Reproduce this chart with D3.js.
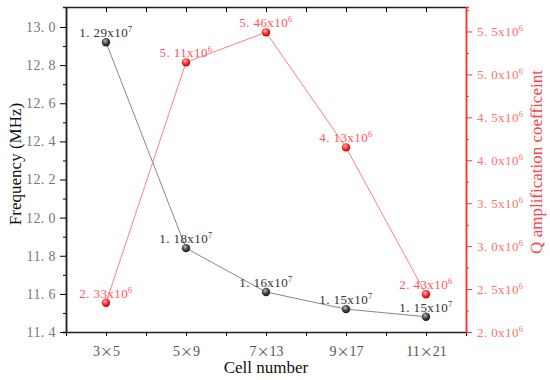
<!DOCTYPE html>
<html>
<head>
<meta charset="utf-8">
<script src="https://cdn.jsdelivr.net/npm/d3@7"></script>
<style>
  body { margin: 0; background: #fff; }
  #chart { width: 550px; height: 380px; }
</style>
</head>
<body>
<div id="chart"></div>
<script>
// data
const cells = ["3×5", "5×9", "7×13", "9×17", "11×21"];
const freq = [12.92, 11.84, 11.61, 11.52, 11.48];          // MHz (left axis)
const freqLabels = ["1. 29", "1. 18", "1. 16", "1. 15", "1. 15"]; // x10^7
const qValues = [2.34e6, 5.14e6, 5.49e6, 4.15e6, 2.44e6];  // right axis
const qLabels = ["2. 33", "5. 11", "5. 46", "4. 13", "2. 43"];    // x10^6
const freqTicks = [11.4, 11.6, 11.8, 12.0, 12.2, 12.4, 12.6, 12.8, 13.0];
const qTicks = [2.0e6, 2.5e6, 3.0e6, 3.5e6, 4.0e6, 4.5e6, 5.0e6, 5.5e6];

const width = 550, height = 380;
const plotL = 66, plotR = 466, plotT = 7, plotB = 332;
const font = "'Liberation Serif', 'Times New Roman', serif";
const cjk = "'Noto Sans CJK SC', sans-serif";

const svg = d3.select("#chart").append("svg")
    .attr("width", width)
    .attr("height", height);

const x = d3.scalePoint().domain(cells).range([plotL, plotR]).padding(0.5);
// linear version of x for the tick marks between categories
const xLin = d3.scaleLinear().domain([-0.5, 4.5]).range([plotL, plotR]);
const yL = d3.scaleLinear().domain([11.4, 13.105]).range([plotB, plotT]);
const yR = d3.scaleLinear().domain([2.0e6, 5.785e6]).range([plotB, plotT]);

// sphere gradients for the markers
const defs = svg.append("defs");
function sphere(id, c0, c1, c2) {
  const g = defs.append("radialGradient").attr("id", id)
      .attr("cx", "40%").attr("cy", "35%").attr("r", "65%");
  g.append("stop").attr("offset", "0%").attr("stop-color", c0);
  g.append("stop").attr("offset", "55%").attr("stop-color", c1);
  g.append("stop").attr("offset", "100%").attr("stop-color", c2);
}
sphere("gBlack", "#bbbbbb", "#444444", "#1a1a1a");
sphere("gRed", "#ffc0c0", "#ff2a2a", "#c80000");

function superLabel(sel, base, exp, size) {
  sel.text(null);
  sel.append("tspan").text(base + "x10");
  sel.append("tspan").attr("dy", -5).attr("font-size", size * 0.65).text(exp);
}

// bottom axis
const halfSteps = d3.range(-0.5, 4.51, 0.5);
const xAxis = svg.append("g")
    .attr("transform", `translate(0,${plotB})`)
    .call(d3.axisBottom(xLin).tickValues(halfSteps).tickSizeInner(4).tickSizeOuter(0)
        .tickFormat(d => Number.isInteger(d) ? cells[d] : ""));
xAxis.selectAll("text").attr("font-family", font).attr("font-size", 14)
    .attr("fill", "#555").attr("dy", "1.2em")
    .each(function() {
      const t = d3.select(this), parts = t.text().split("×");
      if (parts.length < 2) return;
      t.text(null);
      t.append("tspan").text(parts[0]);
      t.append("tspan").attr("font-family", cjk).attr("font-size", 13).text("×");
      t.append("tspan").text(parts[1]);
    });

// top axis, ticks pointing inwards
svg.append("g")
    .attr("transform", `translate(0,${plotT})`)
    .call(d3.axisTop(xLin).tickValues(halfSteps).tickSizeInner(-5).tickSizeOuter(0).tickFormat(""));

// left axis: minor then major
svg.append("g")
    .attr("transform", `translate(${plotL},0)`)
    .call(d3.axisLeft(yL).tickValues(d3.range(11.5, 13.1, 0.2)).tickSize(3).tickFormat(""));
const yAxisL = svg.append("g")
    .attr("transform", `translate(${plotL},0)`)
    .call(d3.axisLeft(yL).tickValues(freqTicks).tickSizeInner(6).tickSizeOuter(0)
        .tickFormat(d => d.toFixed(1).replace(".", ". ")));
yAxisL.selectAll("text").attr("font-family", font).attr("font-size", 14)
    .attr("fill", "#777").attr("letter-spacing", 0.4).attr("x", -10);

// right axis (red)
const minorR = svg.append("g")
    .attr("transform", `translate(${plotR},0)`)
    .call(d3.axisRight(yR).tickValues(d3.range(2.25e6, 5.8e6, 0.5e6)).tickSize(3).tickFormat(""));
const yAxisR = svg.append("g")
    .attr("transform", `translate(${plotR},0)`)
    .call(d3.axisRight(yR).tickValues(qTicks).tickSizeInner(6).tickSizeOuter(0));
yAxisR.selectAll("text").attr("font-family", font).attr("font-size", 13)
    .attr("fill", "#ff7070").attr("x", 11).attr("letter-spacing", 0.4)
    .each(function(d) { superLabel(d3.select(this), (d / 1e6).toFixed(1).replace(".", ". "), "6", 13); });
[minorR, yAxisR].forEach(a => {
  a.selectAll("line").attr("stroke", "#ff3333");
  a.select(".domain").attr("stroke", "#ff3333").attr("stroke-width", 1.5);
});

svg.selectAll(".domain").filter(function() { return d3.select(this).attr("stroke") !== "#ff3333"; })
    .attr("stroke", "#222").attr("stroke-width", 1.5);

// axis titles
svg.append("text")
    .attr("transform", `translate(21,164) rotate(-90)`)
    .attr("text-anchor", "middle").attr("font-family", font).attr("font-size", 17)
    .attr("fill", "#111").text("Frequency (MHz)");
svg.append("text")
    .attr("x", 266).attr("y", 373)
    .attr("text-anchor", "middle").attr("font-family", font).attr("font-size", 17)
    .attr("fill", "#111").text("Cell number");
svg.append("text")
    .attr("transform", `translate(542,162) rotate(-90)`)
    .attr("text-anchor", "middle").attr("font-family", font).attr("font-size", 17)
    .attr("fill", "#ff4040").text("Q amplification coefficeint");

// lines
const lineF = d3.line().x((d, i) => x(cells[i])).y(d => yL(d));
const lineQ = d3.line().x((d, i) => x(cells[i])).y(d => yR(d));

svg.append("path").datum(freq).attr("d", lineF)
    .attr("fill", "none").attr("stroke", "#888").attr("stroke-width", 1);
svg.append("path").datum(qValues).attr("d", lineQ)
    .attr("fill", "none").attr("stroke", "#ff8080").attr("stroke-width", 1);

// markers
svg.append("g").selectAll("circle").data(freq).join("circle")
    .attr("cx", (d, i) => x(cells[i])).attr("cy", d => yL(d))
    .attr("r", 4.2).attr("fill", "url(#gBlack)");
svg.append("g").selectAll("circle").data(qValues).join("circle")
    .attr("cx", (d, i) => x(cells[i])).attr("cy", d => yR(d))
    .attr("r", 4.2).attr("fill", "url(#gRed)");

// value labels
svg.append("g").selectAll("text").data(freq).join("text")
    .attr("x", (d, i) => x(cells[i])).attr("y", d => yL(d) - 5)
    .attr("text-anchor", "middle").attr("font-family", font).attr("font-size", 13)
    .attr("letter-spacing", 0.4).attr("fill", "#333")
    .each(function(d, i) { superLabel(d3.select(this), freqLabels[i], "7", 13); });
svg.append("g").selectAll("text").data(qValues).join("text")
    .attr("x", (d, i) => x(cells[i])).attr("y", d => yR(d) - 5)
    .attr("text-anchor", "middle").attr("font-family", font).attr("font-size", 13)
    .attr("letter-spacing", 0.4).attr("fill", "#ff5555")
    .each(function(d, i) { superLabel(d3.select(this), qLabels[i], "6", 13); });
</script>
</body>
</html>
